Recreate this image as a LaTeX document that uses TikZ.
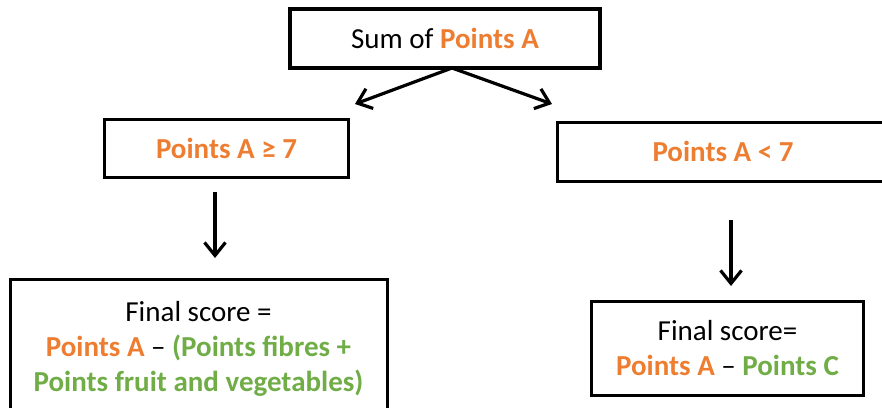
\documentclass[tikz,border=0pt]{standalone}
\usepackage{fontspec}
\setmainfont{Carlito}
\usepackage{xcolor}
\usetikzlibrary{arrows.meta}

\definecolor{ptorange}{RGB}{237,125,49}
\definecolor{ptgreen}{RGB}{112,173,71}
\newcommand{\ptsA}{\textcolor{ptorange}{\textbf{Points A}}}

\begin{document}
\begin{tikzpicture} [
    x=1pt, y=-1pt,
    every node/.style = { font=\fontsize{29}{35}\selectfont },
    block/.style      = { rectangle, draw=black, line width=3pt,
                          align=center, inner sep=0pt },
    link/.style       = { draw, line width=3.2pt,
                          -{Straight Barb[length=13pt,width=21pt]} },
  ]
  \useasboundingbox (0,0) rectangle (882,407);
  \clip (0,0) rectangle (882,407);

  \node [block, line width=4pt, minimum width=310pt, minimum height=59pt]
        (sum) at (445,38.5) {Sum of \ptsA};
  \node [block, minimum width=244pt, minimum height=58pt]
        (high) at (226.5,148.5) {\textcolor{ptorange}{\textbf{Points A ≥ 7}}};
  \node [block, minimum width=331pt, minimum height=59pt]
        (low) at (723,151.5) {\textcolor{ptorange}{\textbf{Points A < 7}}};
  \node [block, minimum width=377pt, minimum height=138pt]
        (scorehigh) at (198.5,348.5) {Final score =\\
        \ptsA{} – \textcolor{ptgreen}{\textbf{(Points fibres +}}\\
        \textcolor{ptgreen}{\textbf{Points fruit and vegetables)}}};
  \node [block, minimum width=272pt, minimum height=94pt]
        (scorelow) at (727.5,348.5) {Final score=\\
        \ptsA{} – \textcolor{ptgreen}{\textbf{Points C}}};

  % free ends of the arrows
  \coordinate (fork)    at (452,68);
  \coordinate (forkL)   at (355,104);
  \coordinate (forkR)   at (552,104);
  \coordinate (highout) at (215,192);
  \coordinate (highend) at (215,258);
  \coordinate (lowout)  at (731,220);
  \coordinate (lowend)  at (731,286);

  \begin{scope} [every path/.style=link]
    \path (fork)    -- (forkL);
    \path (fork)    -- (forkR);
    \path (highout) -- (highend);
    \path (lowout)  -- (lowend);
  \end{scope}
\end{tikzpicture}
\end{document}
